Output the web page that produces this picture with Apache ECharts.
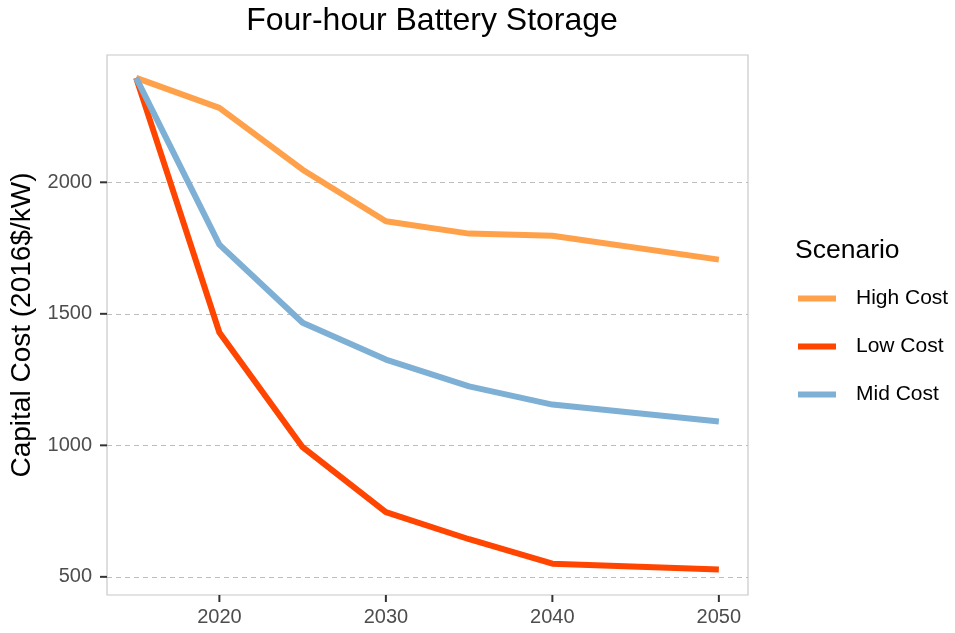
<!DOCTYPE html>
<html>
<head>
<meta charset="utf-8">
<script src="https://cdn.jsdelivr.net/npm/echarts@6/dist/echarts.min.js"></script>
<style>
  html, body { margin: 0; padding: 0; background: #ffffff; }
  #chart { width: 955px; height: 633px; }
</style>
</head>
<body>
<div id="chart"></div>
<script>
// Capital cost projections for four-hour battery storage, by scenario
const years = [2015, 2020, 2025, 2030, 2035, 2040, 2050];
const highCost = [2397, 2283, 2048, 1852, 1805, 1797, 1706];
const lowCost  = [2397, 1429,  993,  746,  643,  550,  528];
const midCost  = [2397, 1763, 1466, 1326, 1224, 1155, 1091];

const scenarioNames = ['High Cost', 'Low Cost', 'Mid Cost'];
const scenarioColors = ['#FFA14A', '#FF4500', '#7EB0D5'];
const xTicks = [2020, 2030, 2040, 2050];
const yTicks = [500, 1000, 1500, 2000];

// axis limits (data range plus a 5% margin on each side)
const xMin = 2013.25, xMax = 2051.75;
const yMin = 431, yMax = 2484;

const pairs = vals => years.map((y, i) => [y, vals[i]]);
const allSeries = [highCost, lowCost, midCost];

const chart = echarts.init(document.getElementById('chart'), null, { renderer: 'canvas' });

const fontFamily = '"Liberation Sans", Arial, sans-serif';
const plain = v => String(v);
const panelBorder = '#c8c8c8';
const tickColor = '#333333';
const tickLen = 7;

// small outward tick marks on the panel edges
function tickSeries(points, horizontal) {
  return {
    type: 'custom',
    silent: true,
    z: 10,
    clip: false,
    data: points,
    renderItem: (params, api) => {
      const p = api.coord([api.value(0), api.value(1)]);
      const shape = horizontal
        ? { x1: p[0], y1: p[1], x2: p[0] - tickLen, y2: p[1] }
        : { x1: p[0], y1: p[1], x2: p[0], y2: p[1] + tickLen };
      return { type: 'line', shape, style: { stroke: tickColor, lineWidth: 2 } };
    }
  };
}

chart.setOption({
  animation: false,
  backgroundColor: '#ffffff',
  textStyle: { fontFamily },
  title: [
    {
      text: 'Four-hour Battery Storage',
      left: 427, top: 0, textAlign: 'center',
      textStyle: { fontFamily, fontSize: 32, fontWeight: 'normal', color: '#000000' }
    },
    {
      text: 'Scenario',
      left: 790, top: 232,
      textStyle: { fontFamily, fontSize: 26.5, fontWeight: 'normal', color: '#000000' }
    }
  ],
  legend: {
    orient: 'vertical',
    left: 793, top: 283,
    itemWidth: 38, itemHeight: 6,
    itemGap: 27,
    icon: 'rect',
    data: scenarioNames,
    textStyle: { fontFamily, fontSize: 21, color: '#000000', padding: [0, 0, 0, 15] }
  },
  grid: {
    left: 107, right: 207, top: 55, bottom: 38,
    outerBoundsMode: 'none',
    containLabel: false,
    show: true, borderColor: panelBorder, borderWidth: 1.2, backgroundColor: '#ffffff'
  },
  xAxis: {
    type: 'value',
    min: xMin, max: xMax,
    axisLine: { show: false },
    axisTick: { show: false, customValues: xTicks },
    axisLabel: { customValues: xTicks, formatter: plain, color: '#4d4d4d', fontSize: 20, margin: 12, fontFamily },
    splitLine: { show: false }
  },
  yAxis: {
    type: 'value',
    min: yMin, max: yMax,
    name: 'Capital Cost (2016$/kW)',
    nameLocation: 'middle',
    nameGap: 68,
    nameTextStyle: { fontFamily, fontSize: 28, color: '#000000' },
    axisLine: { show: false },
    axisTick: { show: false, customValues: yTicks },
    axisLabel: { customValues: yTicks, formatter: plain, color: '#4d4d4d', fontSize: 20, margin: 15, fontFamily },
    splitLine: { show: true, lineStyle: { color: '#bdbdbd', type: [5, 4], width: 1 } }
  },
  series: scenarioNames.map((name, i) => ({
    name,
    type: 'line',
    data: pairs(allSeries[i]),
    showSymbol: false,
    symbol: 'none',
    color: scenarioColors[i],
    lineStyle: { width: 6, color: scenarioColors[i], join: 'round' },
    z: 2 + i
  })).concat([
    tickSeries(xTicks.map(v => [v, yMin]), false),
    tickSeries(yTicks.map(v => [xMin, v]), true)
  ])
});
</script>
</body>
</html>
